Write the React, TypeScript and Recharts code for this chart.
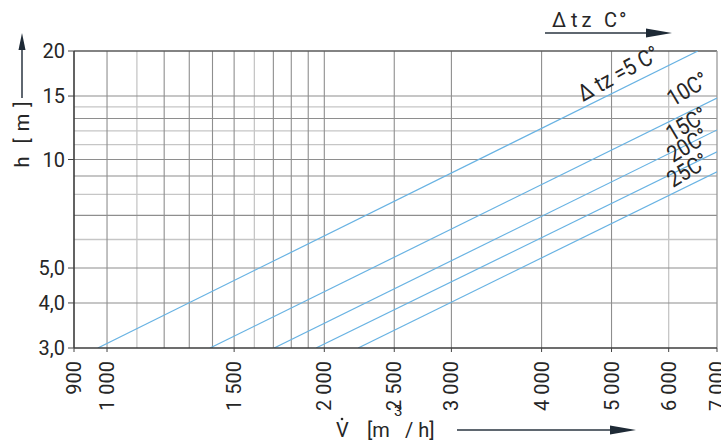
import React from 'react';
import { LineChart, Line, XAxis, YAxis, ReferenceLine, ReferenceDot } from 'recharts';

// Axis ticks
const xTicks = [900, 1000, 1500, 2000, 2500, 3000, 4000, 5000, 6000, 7000];
const xTickLabels = ['900', '1 000', '1 500', '2 000', '2 500', '3 000', '4 000', '5 000', '6 000', '7 000'];
const yTicks = [3, 4, 5, 10, 15, 20];
const yTickLabels = ['3,0', '4,0', '5,0', '10', '15', '20'];

// Grid lines
const xGridDark = [1000, 1200, 1300, 1400, 1500, 1700, 1800, 1900, 2000, 2500, 3000, 4000, 5000];
const xGridLight = [1100, 1600, 6000];
const yGridDark = [4, 5, 7, 9, 10, 13, 15];
const yGridLight = [6, 8, 11, 12, 14];

// Δtz curves (V [m3/h], h [m])
const dtz5 = [{ v: 971, h: 3 }, { v: 6586, h: 20 }];
const dtz10 = [{ v: 1389, h: 3 }, { v: 7000, h: 14.8 }];
const dtz15 = [{ v: 1704, h: 3 }, { v: 7000, h: 12.08 }];
const dtz20 = [{ v: 1948, h: 3 }, { v: 7000, h: 10.5 }];
const dtz25 = [{ v: 2228, h: 3 }, { v: 7000, h: 9.25 }];
const seriesData = [dtz5, dtz10, dtz15, dtz20, dtz25];

// Curve labels (anchor in data coordinates)
const curveLabels = ['Δ tz =5 C°', '10C°', '15C°', '20C°', '25C°'];
const curveLabelV = [4566, 6082, 6064, 6082, 6082];
const curveLabelH = [14.44, 13.99, 11.18, 9.78, 8.34];
const curveLabelAngle = [-29, -31, -31, -31, -31];

const FONT = "Roboto, 'Liberation Sans', sans-serif";
const TEXT = '#262626';
const LINE = '#69b3e3';
const GRID_DARK = '#8e8e8e';
const GRID_LIGHT = '#c6c6c6';

const XTick = (props: any) => {
  const { x, y, payload } = props;
  const i = xTicks.indexOf(payload.value);
  return (
    <text
      transform={`translate(${x + 7},${y + 7}) rotate(-90)`}
      textAnchor="end"
      fontFamily={FONT}
      fontSize={20}
      fill={TEXT}
      style={{ whiteSpace: 'pre' }}
    >
      {i >= 0 ? xTickLabels[i] : ''}
    </text>
  );
};

const YTick = (props: any) => {
  const { x, y, payload } = props;
  const i = yTicks.indexOf(payload.value);
  return (
    <text
      x={x - 1}
      y={y + 7}
      textAnchor="end"
      fontFamily={FONT}
      fontSize={20}
      fill={TEXT}
    >
      {i >= 0 ? yTickLabels[i] : ''}
    </text>
  );
};

const makeLabel = (text: string, angle: number) => (props: any) => {
  const vb = props.viewBox || {};
  const x = vb.x + (vb.width || 0) / 2;
  const y = vb.y + (vb.height || 0) / 2;
  return (
    <text
      transform={`translate(${x},${y}) rotate(${angle}) scale(0.88,1)`}
      textAnchor="start"
      fontFamily={FONT}
      fontSize={23}
      fill={TEXT}
      style={{ whiteSpace: 'pre' }}
    >
      {text}
    </text>
  );
};

export default function App() {
  return (
    <div style={{ position: 'absolute', left: 0, top: 0, width: 721, height: 444, background: '#fff' }}>
      <LineChart
        width={721}
        height={444}
        margin={{ top: 51, right: 4, bottom: 36, left: 0 }}
      >
        {xGridLight.map((v) => (
          <ReferenceLine key={'xl' + v} x={v} stroke={GRID_LIGHT} strokeWidth={1.3} />
        ))}
        {yGridLight.map((v) => (
          <ReferenceLine key={'yl' + v} y={v} stroke={GRID_LIGHT} strokeWidth={1.3} />
        ))}
        {xGridDark.map((v) => (
          <ReferenceLine key={'xd' + v} x={v} stroke={GRID_DARK} strokeWidth={1.1} />
        ))}
        {yGridDark.map((v) => (
          <ReferenceLine key={'yd' + v} y={v} stroke={GRID_DARK} strokeWidth={1.1} />
        ))}
        <ReferenceLine y={20} stroke="#5a5a5a" strokeWidth={1.3} />
        <ReferenceLine x={7000} stroke="#9a9a9a" strokeWidth={1.3} />
        <XAxis
          dataKey="v"
          type="number"
          scale="log"
          domain={[900, 7000]}
          ticks={xTicks}
          interval={0}
          allowDataOverflow
          height={60}
          tick={<XTick />}
          tickSize={4}
          tickLine={{ stroke: '#444' }}
          axisLine={{ stroke: '#3c3c3c', strokeWidth: 1.6 }}
        />
        <YAxis
          dataKey="h"
          type="number"
          scale="log"
          domain={[3, 20]}
          ticks={yTicks}
          interval={0}
          allowDataOverflow
          width={74}
          tick={<YTick />}
          tickSize={6}
          tickLine={{ stroke: '#444' }}
          axisLine={{ stroke: '#3c3c3c', strokeWidth: 1.6 }}
        />
        {seriesData.map((d, i) => (
          <Line
            key={'s' + i}
            data={d}
            dataKey="h"
            type="linear"
            stroke={LINE}
            strokeWidth={1.2}
            dot={false}
            activeDot={false}
            isAnimationActive={false}
          />
        ))}
        {curveLabels.map((t, i) => (
          <ReferenceDot
            key={'lab' + i}
            x={curveLabelV[i]}
            y={curveLabelH[i]}
            r={0}
            fill="none"
            stroke="none"
            ifOverflow="visible"
            label={makeLabel(t, curveLabelAngle[i])}
          />
        ))}
      </LineChart>
      <svg
        width={721}
        height={444}
        style={{ position: 'absolute', left: 0, top: 0, pointerEvents: 'none' }}
      >
        {/* Y axis title with arrow */}
        <line x1={22} y1={98} x2={22} y2={48} stroke="#2a3440" strokeWidth={1.5} />
        <polygon points="22,33 18.5,50 25.5,50" fill="#1e2a36" />
        <text
          transform="translate(29,134) rotate(-90)"
          textAnchor="middle"
          fontFamily={FONT}
          fontSize={20}
          fill={TEXT}
          letterSpacing={1}
          style={{ whiteSpace: 'pre' }}
        >
          {'h  [ m ]'}
        </text>
        {/* X axis title with arrow */}
        <text x={336} y={437} fontFamily={FONT} fontSize={20} fill={TEXT}>
          V
        </text>
        <circle cx={342} cy={419} r={1.3} fill={TEXT} />
        <text x={367} y={437} fontFamily={FONT} fontSize={20} fill={TEXT}>
          [m
        </text>
        <text x={394} y={416} fontFamily={FONT} fontSize={15} fill={TEXT}>
          3
        </text>
        <text x={405} y={437} fontFamily={FONT} fontSize={20} fill={TEXT} style={{ whiteSpace: 'pre' }}>
          {'/ h]'}
        </text>
        <line x1={457} y1={430} x2={614} y2={430} stroke="#2a3440" strokeWidth={1.5} />
        <polygon points="636,430 610,425.5 610,434.5" fill="#1e2a36" />
        {/* Top Δtz title with arrow */}
        <text x={552} y={27} fontFamily={FONT} fontSize={20} fill={TEXT}>
          Δ
        </text>
        <text x={571} y={27} fontFamily={FONT} fontSize={20} fill={TEXT} letterSpacing={4}>
          tz
        </text>
        <text x={604} y={27} fontFamily={FONT} fontSize={20} fill={TEXT} letterSpacing={2}>
          C°
        </text>
        <line x1={545} y1={33} x2={650} y2={33} stroke="#2a3440" strokeWidth={1.5} />
        <polygon points="672,33 646,28.5 646,37.5" fill="#1e2a36" />
      </svg>
    </div>
  );
}
